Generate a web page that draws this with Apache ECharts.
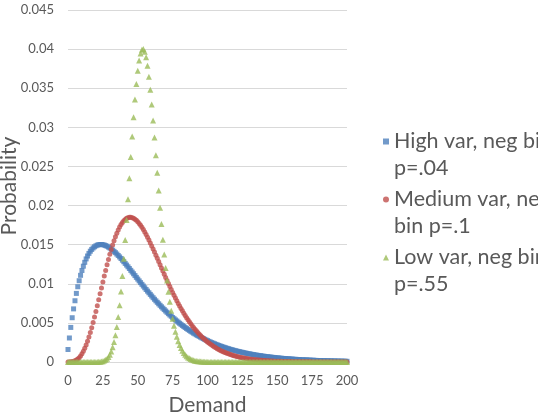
<!DOCTYPE html>
<html>
<head>
<meta charset="utf-8">
<script src="https://cdn.jsdelivr.net/npm/echarts@6/dist/echarts.min.js"></script>
<style>
  html, body { margin: 0; padding: 0; background: #fff; }
  #chart { width: 538px; height: 416px; }
</style>
</head>
<body>
<div id="chart"></div>
<script>
// demand runs 0,1,2 ... 200, one value per unit
var demandStart = 0;

var seriesNames = ['High var, neg bin p=.04', 'Medium var, neg bin p=.1', 'Low var, neg bin p=.55'];
var legendLabels = ['High var, neg bin\np=.04', 'Medium var, neg\nbin p=.1', 'Low var, neg bin\np=.55'];

var xTicks = { min: 0, max: 200, step: 25 };
var yTicks = { min: 0, max: 0.045, step: 0.005 };

// high var (p=.04)
var highVar = [
  0.00160, 0.00307, 0.00442, 0.00566, 0.00679, 0.00783, 0.00877, 0.00962, 0.01039, 0.01108,
  0.01170, 0.01225, 0.01274, 0.01318, 0.01355, 0.01388, 0.01416, 0.01439, 0.01458, 0.01473,
  0.01485, 0.01494, 0.01499, 0.01502, 0.01502, 0.01499, 0.01495, 0.01488, 0.01480, 0.01469,
  0.01458, 0.01444, 0.01430, 0.01414, 0.01398, 0.01380, 0.01362, 0.01343, 0.01323, 0.01302,
  0.01282, 0.01260, 0.01239, 0.01217, 0.01195, 0.01172, 0.01150, 0.01128, 0.01105, 0.01082,
  0.01060, 0.01037, 0.01015, 0.00993, 0.00971, 0.00949, 0.00927, 0.00906, 0.00885, 0.00864,
  0.00843, 0.00822, 0.00802, 0.00782, 0.00763, 0.00744, 0.00725, 0.00706, 0.00688, 0.00670,
  0.00652, 0.00635, 0.00618, 0.00601, 0.00585, 0.00569, 0.00554, 0.00538, 0.00524, 0.00509,
  0.00495, 0.00481, 0.00467, 0.00454, 0.00441, 0.00428, 0.00416, 0.00404, 0.00392, 0.00381,
  0.00369, 0.00359, 0.00348, 0.00338, 0.00328, 0.00318, 0.00308, 0.00299, 0.00290, 0.00281,
  0.00273, 0.00264, 0.00256, 0.00248, 0.00241, 0.00233, 0.00226, 0.00219, 0.00212, 0.00206,
  0.00199, 0.00193, 0.00187, 0.00181, 0.00175, 0.00170, 0.00164, 0.00159, 0.00154, 0.00149,
  0.00144, 0.00140, 0.00135, 0.00131, 0.00127, 0.00123, 0.00119, 0.00115, 0.00111, 0.00107,
  0.00104, 0.00101, 0.00097, 0.00094, 0.00091, 0.00088, 0.00085, 0.00082, 0.00080, 0.00077,
  0.00074, 0.00072, 0.00070, 0.00067, 0.00065, 0.00063, 0.00061, 0.00059, 0.00057, 0.00055,
  0.00053, 0.00051, 0.00049, 0.00048, 0.00046, 0.00045, 0.00043, 0.00042, 0.00040, 0.00039,
  0.00038, 0.00036, 0.00035, 0.00034, 0.00033, 0.00032, 0.00031, 0.00029, 0.00028, 0.00027,
  0.00027, 0.00026, 0.00025, 0.00024, 0.00023, 0.00022, 0.00022, 0.00021, 0.00020, 0.00019,
  0.00019, 0.00018, 0.00017, 0.00017, 0.00016, 0.00016, 0.00015, 0.00015, 0.00014, 0.00014,
  0.00013, 0.00013, 0.00012, 0.00012, 0.00011, 0.00011, 0.00011, 0.00010, 0.00010, 0.00009,
  0.00009
];

// medium var (p=.1)
var mediumVar = [
  0.00000, 0.00001, 0.00002, 0.00004, 0.00008, 0.00015, 0.00025, 0.00038, 0.00055, 0.00078,
  0.00105, 0.00137, 0.00175, 0.00218, 0.00266, 0.00319, 0.00377, 0.00439, 0.00505, 0.00574,
  0.00646, 0.00720, 0.00795, 0.00871, 0.00947, 0.01023, 0.01098, 0.01171, 0.01242, 0.01311,
  0.01376, 0.01438, 0.01497, 0.01551, 0.01601, 0.01647, 0.01688, 0.01725, 0.01757, 0.01784,
  0.01806, 0.01823, 0.01837, 0.01845, 0.01849, 0.01849, 0.01845, 0.01837, 0.01826, 0.01811,
  0.01793, 0.01772, 0.01748, 0.01722, 0.01693, 0.01662, 0.01629, 0.01595, 0.01559, 0.01522,
  0.01484, 0.01445, 0.01406, 0.01366, 0.01325, 0.01284, 0.01243, 0.01203, 0.01162, 0.01121,
  0.01081, 0.01042, 0.01003, 0.00964, 0.00927, 0.00889, 0.00853, 0.00818, 0.00783, 0.00749,
  0.00717, 0.00685, 0.00654, 0.00624, 0.00595, 0.00567, 0.00540, 0.00514, 0.00489, 0.00465,
  0.00441, 0.00419, 0.00398, 0.00377, 0.00357, 0.00339, 0.00321, 0.00303, 0.00287, 0.00271,
  0.00256, 0.00242, 0.00229, 0.00216, 0.00204, 0.00192, 0.00181, 0.00170, 0.00160, 0.00151,
  0.00142, 0.00134, 0.00126, 0.00118, 0.00111, 0.00104, 0.00098, 0.00092, 0.00086, 0.00081,
  0.00076, 0.00071, 0.00066, 0.00062, 0.00058, 0.00055, 0.00051, 0.00048, 0.00045, 0.00042,
  0.00039, 0.00036, 0.00034, 0.00032, 0.00030, 0.00028, 0.00026, 0.00024, 0.00023, 0.00021,
  0.00020, 0.00018, 0.00017, 0.00016, 0.00015, 0.00014, 0.00013, 0.00012, 0.00011, 0.00010,
  0.00010, 0.00009, 0.00008, 0.00008, 0.00007, 0.00007, 0.00006, 0.00006, 0.00005, 0.00005,
  0.00005, 0.00004, 0.00004, 0.00004, 0.00003, 0.00003, 0.00003, 0.00003, 0.00003, 0.00002,
  0.00002, 0.00002, 0.00002, 0.00002, 0.00002, 0.00001, 0.00001, 0.00001, 0.00001, 0.00001,
  0.00001, 0.00001, 0.00001, 0.00001, 0.00001, 0.00001, 0.00001, 0.00001, 0.00001, 0.00000,
  0.00000, 0.00000, 0.00000, 0.00000, 0.00000, 0.00000, 0.00000, 0.00000, 0.00000, 0.00000,
  0.00000
];

// low var (p=.55)
var lowVar = [
  0, 0, 0, 0, 0, 0, 0, 0, 0, 0,
  0, 0, 0, 0, 0, 0, 0, 0, 0, 0,
  0.00001, 0.00001, 0.00002, 0.00004, 0.00007, 0.00011, 0.00018, 0.00028, 0.00043, 0.00065,
  0.00094, 0.00135, 0.00188, 0.00256, 0.00342, 0.00448, 0.00576, 0.00727, 0.00902, 0.01100,
  0.01320, 0.01559, 0.01814, 0.02080, 0.02350, 0.02620, 0.02882, 0.03130, 0.03356, 0.03555,
  0.03722, 0.03853, 0.03943, 0.03992, 0.04000, 0.03967, 0.03895, 0.03787, 0.03647, 0.03481,
  0.03292, 0.03086, 0.02869, 0.02644, 0.02418, 0.02193, 0.01973, 0.01763, 0.01563, 0.01375,
  0.01202, 0.01043, 0.00899, 0.00770, 0.00655, 0.00554, 0.00465, 0.00388, 0.00322, 0.00266,
  0.00218, 0.00178, 0.00144, 0.00116, 0.00093, 0.00075, 0.00059, 0.00047, 0.00037, 0.00029,
  0.00022, 0.00017, 0.00013, 0.00010, 0.00008, 0.00006, 0.00005, 0.00003, 0.00003, 0.00002,
  0.00001, 0.00001, 0, 0, 0, 0, 0, 0, 0, 0,
  0, 0, 0, 0, 0, 0, 0, 0, 0, 0,
  0, 0, 0, 0, 0, 0, 0, 0, 0, 0,
  0, 0, 0, 0, 0, 0, 0, 0, 0, 0,
  0, 0, 0, 0, 0, 0, 0, 0, 0, 0,
  0, 0, 0, 0, 0, 0, 0, 0, 0, 0,
  0, 0, 0, 0, 0, 0, 0, 0, 0, 0,
  0, 0, 0, 0, 0, 0, 0, 0, 0, 0,
  0, 0, 0, 0, 0, 0, 0, 0, 0, 0,
  0, 0, 0, 0, 0, 0, 0, 0, 0, 0,
  0
];

var textColor = '#595959';
var fontName = 'Lato';

function toPoints(values) {
  var pts = [];
  for (var i = 0; i < values.length; i++) {
    pts.push([demandStart + i, values[i]]);
  }
  return pts;
}

var myChart = echarts.init(document.getElementById('chart'), null, { renderer: 'canvas' });

var option = {
  animation: false,
  color: ['#4F81BD', '#C0504D', '#9BBB59'],
  grid: { left: 68, right: 191, top: 10, bottom: 54, containLabel: false, outerBoundsMode: 'none' },
  legend: {
    orient: 'vertical',
    left: 383,
    top: 101,
    padding: 0,
    itemWidth: 6,
    itemHeight: 6,
    itemGap: -23,
    data: [
      { name: seriesNames[0], icon: 'rect' },
      { name: seriesNames[1], icon: 'circle' },
      { name: seriesNames[2], icon: 'triangle' }
    ],
    // empty first line so the marker sits beside the first text line
    formatter: function (name) {
      return '\n' + legendLabels[seriesNames.indexOf(name)];
    },
    textStyle: {
      color: textColor,
      fontFamily: fontName,
      fontSize: 21.5,
      lineHeight: 27
    }
  },
  xAxis: {
    type: 'value',
    min: xTicks.min,
    max: xTicks.max,
    interval: xTicks.step,
    name: 'Demand',
    nameLocation: 'middle',
    nameGap: 33,
    nameMoveOverlap: false,
    nameTextStyle: { color: textColor, fontFamily: fontName, fontSize: 21 },
    axisLine: { show: true, lineStyle: { color: '#D9D9D9' } },
    axisTick: { show: false },
    axisLabel: { color: textColor, fontFamily: fontName, fontSize: 13, margin: 12 },
    splitLine: { show: false }
  },
  yAxis: {
    type: 'value',
    min: yTicks.min,
    max: yTicks.max,
    interval: yTicks.step,
    name: 'Probability',
    nameLocation: 'middle',
    nameGap: 48,
    nameMoveOverlap: false,
    nameTextStyle: { color: textColor, fontFamily: fontName, fontSize: 21 },
    axisLine: { show: false },
    axisTick: { show: false },
    axisLabel: {
      color: textColor,
      fontFamily: fontName,
      fontSize: 13,
      margin: 14,
      formatter: function (v) { return String(+v.toFixed(3)); }
    },
    splitLine: { lineStyle: { color: '#D9D9D9' } }
  },
  series: [
    {
      name: seriesNames[0],
      type: 'scatter',
      symbol: 'rect',
      symbolSize: 5,
      data: toPoints(highVar)
    },
    {
      name: seriesNames[1],
      type: 'scatter',
      symbol: 'circle',
      symbolSize: 5,
      data: toPoints(mediumVar)
    },
    {
      name: seriesNames[2],
      type: 'scatter',
      symbol: 'triangle',
      symbolSize: 6,
      data: toPoints(lowVar)
    }
  ]
};

myChart.setOption(option);
</script>
</body>
</html>
